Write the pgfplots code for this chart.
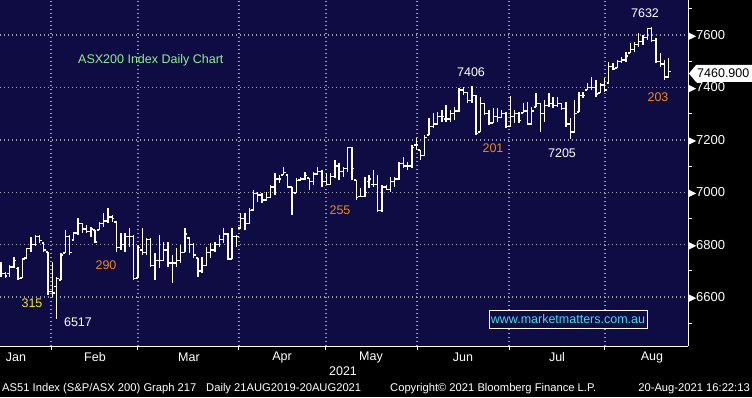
\documentclass[border=0pt]{standalone}
\usepackage{pgfplots}
\pgfplotsset{compat=1.18}
\usepackage{pgfplotstable}
\usepackage{fontspec}
\setmainfont{Liberation Sans}
\definecolor{navy}{RGB}{15,12,68}
\definecolor{gridgray}{RGB}{160,160,160}
\definecolor{bbgorange}{RGB}{235,135,35}
\definecolor{bbgyellow}{RGB}{235,235,50}
\definecolor{bbggreen}{RGB}{140,240,140}
\definecolor{bbgcyan}{RGB}{60,220,230}
\pgfdeclareplotmark{opentick}{\pgfpathmoveto{\pgfqpoint{-\pgfplotmarksize}{0pt}}\pgfpathlineto{\pgfqpoint{0pt}{0pt}}\pgfusepathqstroke}
\pgfdeclareplotmark{closetick}{\pgfpathmoveto{\pgfqpoint{0pt}{0pt}}\pgfpathlineto{\pgfqpoint{\pgfplotmarksize}{0pt}}\pgfusepathqstroke}
\pgfplotstableread{
i o h l c
0 6700 6734 6676 6690
1 6690 6695 6672 6680
2 6690 6722 6676 6715
3 6715 6753 6714 6740
4 6710 6714 6665 6670
5 6672 6749 6672 6745
6 6749 6787 6749 6785
7 6785 6829 6772 6800
8 6800 6837 6798 6830
9 6830 6837 6806 6815
10 6806 6806 6772 6780
11 6772 6772 6608 6620
12 6620 6734 6600 6615
13 6640 6676 6517 6670
14 6665 6768 6665 6760
15 6768 6856 6768 6830
16 6830 6837 6760 6770
17 6818 6849 6818 6845
18 6845 6902 6837 6880
19 6880 6883 6845 6860
20 6860 6875 6845 6850
21 6850 6867 6829 6860
22 6856 6856 6806 6810
23 6856 6887 6856 6880
24 6880 6921 6867 6890
25 6890 6940 6883 6905
26 6905 6913 6887 6900
27 6887 6887 6772 6790
28 6790 6845 6779 6800
29 6800 6845 6772 6830
30 6830 6864 6791 6830
31 6830 6837 6665 6670
32 6672 6798 6672 6790
33 6780 6864 6760 6770
34 6770 6825 6760 6820
35 6820 6825 6714 6720
36 6720 6768 6665 6740
37 6740 6837 6710 6740
38 6740 6810 6740 6780
39 6780 6810 6714 6730
40 6730 6760 6653 6730
41 6730 6787 6714 6740
42 6740 6798 6730 6770
43 6770 6864 6770 6840
44 6825 6829 6768 6800
45 6800 6806 6749 6760
46 6749 6749 6676 6700
47 6700 6753 6691 6720
48 6720 6791 6720 6770
49 6770 6806 6749 6780
50 6780 6810 6772 6800
51 6800 6837 6791 6820
52 6820 6864 6806 6840
53 6840 6845 6741 6745
54 6745 6864 6745 6830
55 6830 6837 6791 6830
56 6864 6921 6864 6900
57 6900 6921 6856 6880
58 6880 6940 6880 6930
59 6932 7008 6932 6995
60 6995 7001 6963 6990
61 6990 6997 6959 6970
62 6970 7001 6966 6980
63 6980 7027 6978 7020
64 7020 7073 6989 7050
65 7050 7066 7035 7050
66 7066 7096 7066 7075
67 7066 7066 7016 7020
68 7020 7020 6913 7000
69 6997 7054 6997 7045
70 7047 7058 7047 7050
71 7050 7077 7047 7065
72 7054 7054 7008 7040
73 7040 7077 7027 7070
74 7070 7096 7066 7080
75 7080 7085 7020 7040
76 7040 7073 7027 7030
77 7030 7073 7027 7060
78 7060 7123 7058 7100
79 7100 7111 7047 7080
80 7080 7096 7058 7090
81 7090 7172 7077 7170
82 7170 7172 7047 7090
83 7047 7047 6970 6980
84 6985 7016 6982 6985
85 6985 7058 6982 7000
86 7040 7066 7016 7050
87 7030 7085 7020 7030
88 7030 7066 6924 6930
89 6930 7027 6924 7020
90 7020 7027 7008 7010
91 7010 7058 7001 7040
92 7040 7058 7020 7050
93 7050 7115 7047 7110
94 7110 7134 7092 7100
95 7100 7115 7085 7100
96 7100 7180 7092 7170
97 7180 7207 7161 7180
98 7161 7161 7123 7140
99 7140 7218 7140 7210
100 7218 7283 7218 7250
101 7250 7302 7245 7260
102 7260 7306 7260 7290
103 7290 7314 7268 7290
104 7280 7333 7268 7280
105 7280 7314 7268 7300
106 7300 7325 7276 7310
107 7310 7398 7306 7390
108 7390 7402 7371 7380
109 7380 7382 7340 7350
110 7350 7406 7340 7370
111 7370 7371 7218 7225
112 7230 7363 7230 7340
113 7340 7340 7295 7300
114 7300 7314 7256 7265
115 7265 7321 7265 7290
116 7290 7321 7268 7285
117 7285 7314 7285 7300
118 7300 7306 7245 7250
119 7250 7367 7250 7290
120 7290 7314 7264 7300
121 7300 7306 7264 7275
122 7302 7340 7302 7310
123 7310 7344 7256 7260
124 7260 7325 7256 7310
125 7325 7379 7325 7340
126 7340 7340 7230 7300
127 7300 7352 7268 7330
128 7330 7379 7325 7340
129 7340 7363 7321 7330
130 7330 7363 7325 7340
131 7340 7340 7314 7320
132 7320 7344 7249 7260
133 7260 7283 7205 7230
134 7230 7352 7230 7300
135 7306 7382 7306 7370
136 7370 7382 7359 7370
137 7390 7417 7390 7400
138 7400 7440 7390 7400
139 7400 7428 7363 7375
140 7379 7417 7379 7410
141 7410 7436 7382 7390
142 7417 7497 7417 7480
143 7480 7493 7466 7470
144 7474 7505 7474 7500
145 7500 7516 7493 7505
146 7505 7535 7497 7520
147 7531 7570 7531 7545
148 7545 7573 7535 7565
149 7565 7608 7554 7575
150 7575 7600 7562 7590
151 7590 7627 7581 7625
152 7625 7632 7573 7580
153 7580 7589 7493 7500
154 7500 7531 7478 7490
155 7490 7505 7428 7440
156 7440 7512 7440 7461
}\ohlc
\begin{document}
\begin{tikzpicture}[font=\fontsize{12.5}{14}\selectfont]
\useasboundingbox (0,0) rectangle (752pt,397pt);
\fill[black] (0,0) rectangle (752pt,397pt);
\begin{axis}[
  at={(0pt,51pt)}, anchor=south west,
  scale only axis, width=688pt, height=346pt,
  xmin=-0.23, xmax=160.5, ymin=6413, ymax=7734,
  axis background/.style={fill=navy},
  axis x line*=bottom, axis y line*=right,
  axis line style={white, line width=1pt},
  tick align=outside,
  major tick length=4pt, minor tick length=4pt,
  xtick={11.7,32,55.6,75.9,97.2,118.7,141.1},
  xticklabels={},
  ytick={6600,6800,7000,7200,7400,7600},
  minor ytick={6500,6700,6900,7100,7300,7500,7700},
  xtick style={white, line width=1pt},
  ytick style={white, line width=1pt},
  xmajorgrids, ymajorgrids,
  major grid style={gridgray, line width=1.4pt, dash pattern=on 1.4pt off 2.6pt},
  /pgf/number format/.cd, 1000 sep={}, assume math mode=true, /pgfplots/.cd,
  yticklabel={\tikz[baseline=-0.5ex]\fill[white](0pt,-3.5pt)--(7pt,0pt)--(0pt,3.5pt)--cycle;\fontsize{13}{15}\selectfont\pgfmathprintnumber{\tick}},
  yticklabel style={anchor=west, inner sep=0pt, xshift=-3pt, text=white},
  clip=false,
]
\addplot[white, line width=1.35pt, only marks, mark=opentick, mark size=2.2pt,
  error bars/.cd, y dir=both, y explicit, error mark=none,
  error bar style={white, line width=1.35pt}]
  table[x=i, y=o, y error plus expr=\thisrow{h}-\thisrow{o}, y error minus expr=\thisrow{o}-\thisrow{l}] {\ohlc};
\addplot[white, line width=1.35pt, only marks, mark=closetick, mark size=2.2pt]
  table[x=i, y=c] {\ohlc};
\end{axis}
% annotations
\node[anchor=west, text=bbggreen, inner sep=0pt] at (78pt,337pt) {ASX200 Index Daily Chart};
\node[text=bbgyellow] at (32pt,94pt) {315};
\node[text=white] at (78pt,75pt) {6517};
\node[text=bbgorange] at (106pt,132pt) {290};
\node[text=bbgorange] at (340pt,187pt) {255};
\node[text=white] at (471pt,325pt) {7406};
\node[text=bbgorange] at (493pt,249pt) {201};
\node[text=white] at (562pt,244pt) {7205};
\node[text=white] at (645pt,384pt) {7632};
\node[text=bbgorange] at (658pt,300pt) {203};
\fill[white] (689pt,323.5pt) -- (696pt,332pt) -- (753pt,332pt) -- (753pt,315pt) -- (696pt,315pt) -- cycle;
\node[anchor=west, text=black, inner sep=0pt] at (697pt,323.5pt) {7460.900};
\draw[white, line width=1pt, fill=navy] (489pt,69pt) rectangle (647pt,87pt);
\node[text=bbgcyan, inner sep=0pt] at (568pt,78pt) {www.marketmatters.com.au};
% month labels
\foreach \x/\m in {16/Jan,95/Feb,189/Mar,282/Apr,371/May,463/Jun,557/Jul,652/Aug}
  \node[text=white, inner sep=0pt] at (\x pt,40pt) {\m};
\node[text=white, inner sep=0pt] at (343pt,26pt) {2021};
% footer
\begin{scope}[font=\fontsize{11.2}{13}\selectfont]
\node[anchor=west, text=white, inner sep=0pt] at (2pt,8pt) {AS51 Index (S\&P/ASX 200) Graph 217};
\node[anchor=west, text=white, inner sep=0pt] at (206pt,8pt) {Daily 21AUG2019-20AUG2021};
\node[anchor=west, text=white, inner sep=0pt] at (390pt,8pt) {Copyright© 2021 Bloomberg Finance L.P.};
\node[anchor=east, text=white, inner sep=0pt] at (750pt,8pt) {20-Aug-2021 16:22:13};
\end{scope}
\end{tikzpicture}
\end{document}
